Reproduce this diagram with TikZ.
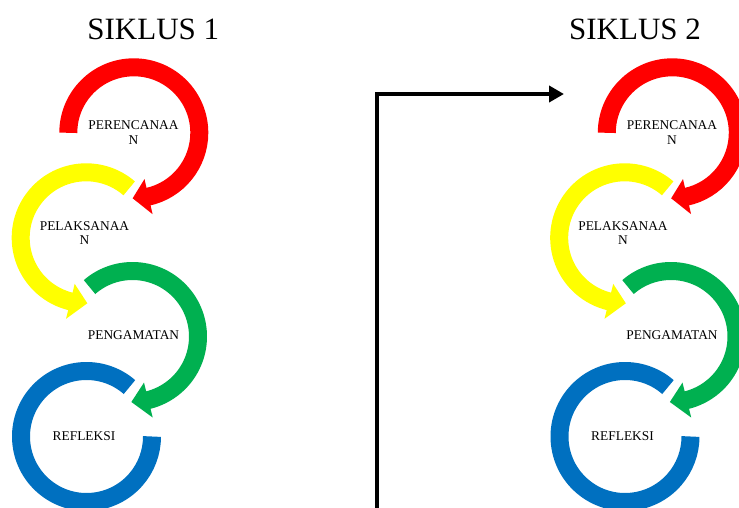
\documentclass[tikz,border=0pt]{standalone}
\usepackage{fontspec}
\setmainfont{Liberation Serif}
\usetikzlibrary{arrows.meta}
\definecolor{cred}{HTML}{FF0000}
\definecolor{cyel}{HTML}{FFFF00}
\definecolor{cgreen}{HTML}{00B050}
\definecolor{cblue}{HTML}{0070C0}
\tikzset{
  ring/.style={line width=18pt},
  lbl/.style={font=\fontsize{13.4}{14.3}\selectfont, align=center, inner sep=0pt},
  ttl/.style={font=\fontsize{31}{34}\selectfont, inner sep=0pt, anchor=base},
  flow/.style={line width=4pt, -{Triangle[length=15pt,width=16pt]}}
}
\begin{document}
\begin{tikzpicture}[x=1pt,y=-1pt]
\useasboundingbox (0,0) rectangle (739,507);
\clip (0,0) rectangle (739,507);
\foreach \dx/\k in {0pt/1,538.5pt/2}{
\begin{scope}[xshift=\dx]
\coordinate (cr\k) at (133.8,132.8);
\coordinate (cy\k) at (86.2,237.8);
\coordinate (cg\k) at (132.5,336.5);
\coordinate (cb\k) at (86.5,436.5);
% red
\draw[ring,cred] ([shift={(180:65.5)}]cr\k) arc[start angle=180,end angle=438,radius=65.5];
\fill[cred] ([shift={(437:47.5)}]cr\k) -- ([shift={(451:65.5)}]cr\k) -- ([shift={(437:83.5)}]cr\k) -- cycle;
% yellow
\draw[ring,cyel] ([shift={(311:65.5)}]cy\k) arc[start angle=311,end angle=103,radius=65.5];
\fill[cyel] ([shift={(104:47.5)}]cy\k) -- ([shift={(89:65.5)}]cy\k) -- ([shift={(104:83.5)}]cy\k) -- cycle;
% green
\draw[ring,cgreen] ([shift={(229:65.5)}]cg\k) arc[start angle=229,end angle=437,radius=65.5];
\fill[cgreen] ([shift={(436:47.5)}]cg\k) -- ([shift={(451:65.5)}]cg\k) -- ([shift={(436:83.5)}]cg\k) -- cycle;
% blue
\draw[ring,cblue] ([shift={(311:65.5)}]cb\k) arc[start angle=311,end angle=0,radius=65.5];
% labels
\node[lbl] (lp\k) at (133.5,132.5) {PERENCANAA\\N};
\node[lbl] (ll\k) at (84.5,233.3) {PELAKSANAA\\N};
\node[lbl] (lg\k) at (133.5,335.3) {PENGAMATAN};
\node[lbl] (lr\k) at (84,436.3) {REFLEKSI};
\end{scope}
}
\node[ttl] (t1) at (153.3,39.3) {SIKLUS 1};
\node[ttl] (t2) at (635,39.3) {SIKLUS 2};
\coordinate (fs) at (377.3,515);
\coordinate (fe) at (564,94);
\draw[flow] (fs) |- (fe);
\end{tikzpicture}
\end{document}
